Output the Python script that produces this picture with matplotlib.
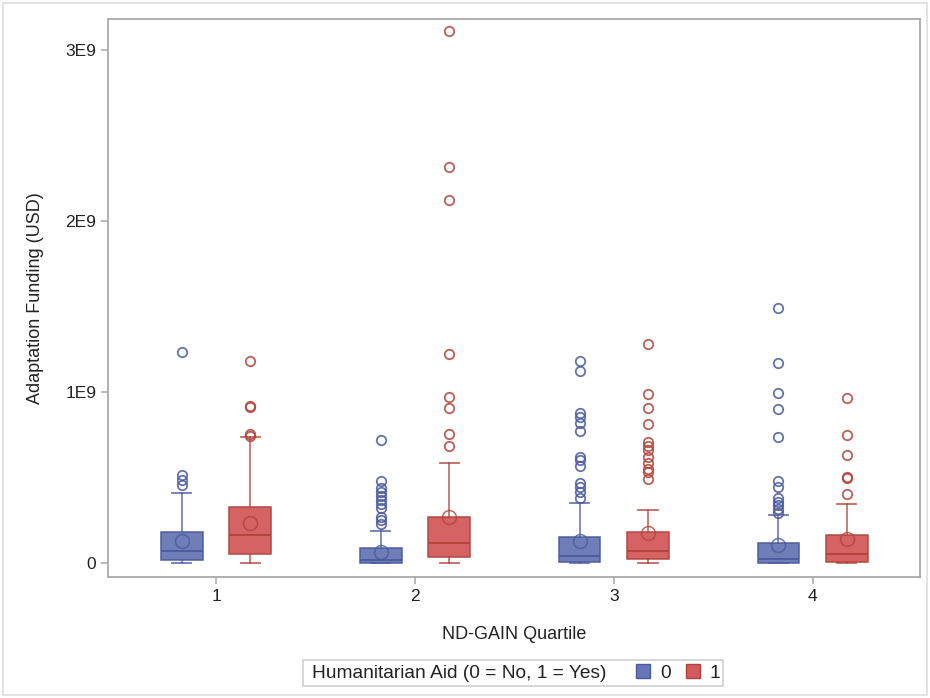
#!/usr/bin/env python3
import matplotlib
matplotlib.use('Agg')
import matplotlib.pyplot as plt
from matplotlib.patches import Patch, Rectangle

# ND-GAIN quartiles on the x axis
quartiles = [1, 2, 3, 4]
aid_groups = ['0', '1']
legend_title = 'Humanitarian Aid (0 = No, 1 = Yes)'

# Box statistics, in units of 1E9 USD
# Humanitarian Aid = 0
whislo_0 = [0.0, 0.0, 0.0, 0.0]
q1_0 = [0.020, 0.002, 0.008, 0.002]
med_0 = [0.072, 0.018, 0.041, 0.022]
q3_0 = [0.180, 0.086, 0.150, 0.117]
whishi_0 = [0.410, 0.186, 0.349, 0.283]
mean_0 = [0.126, 0.064, 0.130, 0.105]
fliers_0 = [
    [1.232, 0.515, 0.485, 0.456],
    [0.719, 0.480, 0.437, 0.417, 0.392, 0.368, 0.345, 0.320, 0.271, 0.251, 0.226],
    [1.183, 1.125, 0.875, 0.856, 0.817, 0.774, 0.622, 0.602, 0.567, 0.470,
     0.446, 0.417, 0.378],
    [1.491, 1.170, 0.992, 0.899, 0.739, 0.480, 0.446, 0.378, 0.359, 0.339,
     0.314, 0.291],
]

# Humanitarian Aid = 1
whislo_1 = [0.0, 0.0, 0.0, 0.0]
q1_1 = [0.055, 0.037, 0.022, 0.004]
med_1 = [0.162, 0.115, 0.072, 0.053]
q3_1 = [0.327, 0.267, 0.183, 0.164]
whishi_1 = [0.735, 0.587, 0.310, 0.345]
mean_1 = [0.236, 0.271, 0.177, 0.140]
fliers_1 = [
    [1.183, 0.918, 0.912, 0.754, 0.740],
    [3.111, 2.316, 2.121, 1.222, 0.973, 0.908, 0.754, 0.686],
    [1.279, 0.986, 0.905, 0.811, 0.709, 0.686, 0.661, 0.622, 0.587, 0.548,
     0.534, 0.489],
    [0.965, 0.746, 0.630, 0.505, 0.495, 0.402],
]

ytick_vals = [0, 1, 2, 3]
ytick_labels = ['0', '1E9', '2E9', '3E9']

SCALE = 1e9


def make_stats(whislo, q1, med, q3, whishi, mean, fliers):
    stats = []
    for i in range(len(quartiles)):
        stats.append({
            'whislo': whislo[i] * SCALE,
            'q1': q1[i] * SCALE,
            'med': med[i] * SCALE,
            'q3': q3[i] * SCALE,
            'whishi': whishi[i] * SCALE,
            'mean': mean[i] * SCALE,
            'fliers': [f * SCALE for f in fliers[i]],
        })
    return stats


def main():
    plt.rcParams['font.family'] = ['Liberation Sans', 'DejaVu Sans']

    fig = plt.figure(figsize=(9.3, 6.98), dpi=100)
    ax = fig.add_axes([0.1161, 0.1734, 0.8731, 0.7994])

    fills = ['#6776B6', '#D35B5B']
    edges = ['#4A5A9C', '#B0433C']
    offsets = [-0.172, 0.172]

    all_stats = [
        make_stats(whislo_0, q1_0, med_0, q3_0, whishi_0, mean_0, fliers_0),
        make_stats(whislo_1, q1_1, med_1, q3_1, whishi_1, mean_1, fliers_1),
    ]

    for g, stats in enumerate(all_stats):
        pos = [q + offsets[g] for q in quartiles]
        ec = edges[g]
        ax.bxp(
            stats, positions=pos, widths=0.21, capwidths=0.096,
            patch_artist=True, showmeans=True, manage_ticks=False,
            boxprops=dict(facecolor=fills[g], edgecolor=ec, linewidth=1.1, alpha=0.95),
            medianprops=dict(color=ec, linewidth=1.3),
            whiskerprops=dict(color=ec, linewidth=1.2, alpha=0.8),
            capprops=dict(color=ec, linewidth=1.3, alpha=0.8),
            meanprops=dict(marker='o', markersize=10, markerfacecolor='none',
                           markeredgecolor=ec, markeredgewidth=1.1, alpha=0.8),
            flierprops=dict(marker='o', markersize=6.8, markerfacecolor='none',
                            markeredgecolor=ec, markeredgewidth=1.3, alpha=0.85),
        )

    ax.set_xlim(0.456, 4.54)
    ax.set_ylim(-0.0819 * SCALE, 3.181 * SCALE)
    ax.set_xticks(quartiles)
    ax.set_xticklabels([str(q) for q in quartiles])
    ax.set_yticks([v * SCALE for v in ytick_vals])
    ax.set_yticklabels(ytick_labels)

    for s in ax.spines.values():
        s.set_color('#a9a9a9')
        s.set_linewidth(1.3)
    ax.tick_params(axis='both', colors='#a9a9a9', length=5, width=1.1,
                   labelcolor='#222222', labelsize=12.5, pad=3.5)

    ax.set_xlabel('ND-GAIN Quartile', fontsize=13, color='#222222', labelpad=16)
    ax.set_ylabel('Adaptation Funding (USD)', fontsize=13, color='#222222', labelpad=15.5)

    # legend: frame, inline title, then the two group swatches
    fig.patches.append(Rectangle((0.3258, 0.0172), 0.4516, 0.0372, transform=fig.transFigure,
                                 fill=False, edgecolor='#cfcfcf', linewidth=1.2))
    fig.text(0.3355, 0.0358, legend_title, fontsize=13.8, color='#222222',
             ha='left', va='center')
    handles = [Patch(facecolor=fills[g], edgecolor=edges[g], linewidth=1.0)
               for g in range(2)]
    leg = fig.legend(handles, aid_groups, loc='center left',
                     bbox_to_anchor=(0.684, 0.0358), ncol=2, fontsize=13.8,
                     frameon=False, handlelength=0.75, handleheight=0.75,
                     handletextpad=0.5, columnspacing=0.8, borderpad=0,
                     borderaxespad=0)
    for t in leg.get_texts():
        t.set_color('#222222')

    # light outer border of the graph
    fig.patches.append(Rectangle((0.003, 0.004), 0.994, 0.992, transform=fig.transFigure,
                                 fill=False, edgecolor='#dddddd', linewidth=1.2))

    fig.savefig('out.png', dpi=100)


if __name__ == "__main__":
    main()
